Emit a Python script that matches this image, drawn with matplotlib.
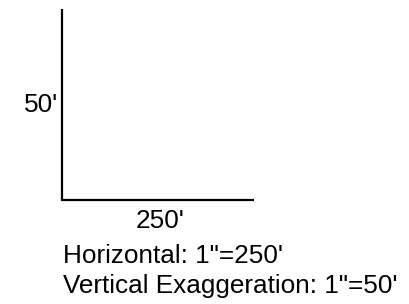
import matplotlib
matplotlib.use("Agg")
import matplotlib.pyplot as plt

# Scale bar values
horizontal_scale = 250   # feet per inch
vertical_scale = 50      # feet per inch
labels_h = "250'"
labels_v = "50'"
caption = ["Horizontal: 1\"=250'", "Vertical Exaggeration: 1\"=50'"]

W, H = 409, 304
fig = plt.figure(figsize=(W / 100, H / 100), dpi=100)
ax = fig.add_axes([0, 0, 1, 1])
ax.set_xlim(0, W)
ax.set_ylim(H, 0)
ax.axis("off")

x0, y0 = 62, 200
hlen = 192 * horizontal_scale / 250
vlen = 191 * vertical_scale / 50
ax.plot([x0, x0, x0 + hlen], [y0 - vlen, y0, y0], color="black", lw=1.6,
        solid_joinstyle="miter", solid_capstyle="butt")

font = dict(family="Liberation Sans", color="black", fontsize=18.8)
ax.text(x0 - 4, 112, labels_v, ha="right", va="baseline", **font)
ax.text(x0 + hlen * 0.51, 228, labels_h, ha="center", va="baseline", **font)
ax.text(63, 263, caption[0], ha="left", va="baseline", **font)
ax.text(63, 293, caption[1], ha="left", va="baseline", **font)

fig.savefig("out.png", dpi=100)
